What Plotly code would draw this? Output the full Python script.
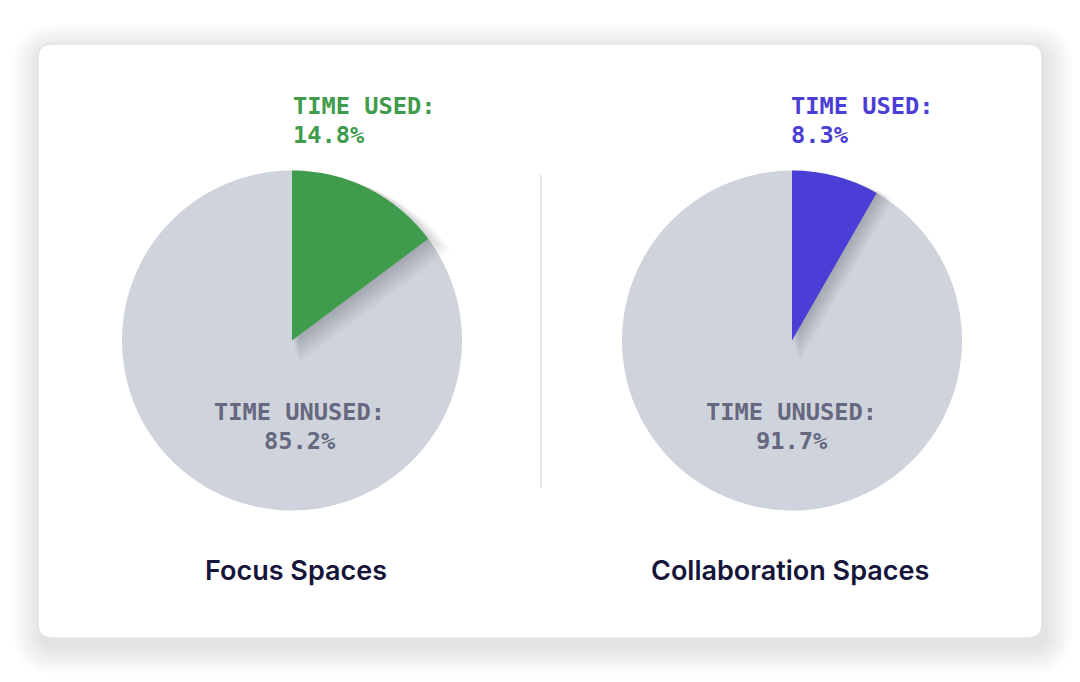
import plotly.graph_objects as go

# the page body adds an 8px margin, so the figure is drawn 8px in
OFF = 8
W, H = 1080 - 2 * OFF, 682 - 2 * OFF

# data
spaces = ["Focus Spaces", "Collaboration Spaces"]
used_pct = [14.8, 8.3]
unused_pct = [85.2, 91.7]
used_label = "TIME USED:"
unused_label = "TIME UNUSED:"

used_colors = ["#3f9c4c", "#4a3ed6"]
pie_gray = "#cfd4dc"
text_gray = "#666880"
navy = "#15143a"
mono = "DejaVu Sans Mono"

# layout positions (screen pixels, from top-left)
centers = [(292, 340.5), (792, 340.5)]
radius = 170
used_text_x = [291, 789]
unused_text_x = [299.5, 791.5]
title_x = [296, 789.5]


def px(x, y):
    return (x - OFF) / W, 1 - (y - OFF) / H


def rrect(x0, y0, x1, y1, r):
    pts = [
        ("M", [(x0 + r, y0)]), ("L", [(x1 - r, y0)]), ("Q", [(x1, y0), (x1, y0 + r)]),
        ("L", [(x1, y1 - r)]), ("Q", [(x1, y1), (x1 - r, y1)]),
        ("L", [(x0 + r, y1)]), ("Q", [(x0, y1), (x0, y1 - r)]),
        ("L", [(x0, y0 + r)]), ("Q", [(x0, y0), (x0 + r, y0)]),
    ]
    out = ""
    for cmd, coords in pts:
        out += cmd + " " + " ".join("%.5f,%.5f" % px(a, b) for a, b in coords) + " "
    return out + "Z"


def domain(cx, cy, r, dx=0, dy=0):
    x0, y0 = px(cx - r + dx, cy + r + dy)
    x1, y1 = px(cx + r + dx, cy - r + dy)
    return dict(x=[x0, x1], y=[y0, y1])


fig = go.Figure()

for i in range(len(spaces)):
    cx, cy = centers[i]
    vals = [used_pct[i], unused_pct[i]]
    # base disc
    fig.add_trace(go.Pie(
        values=vals, marker=dict(colors=[pie_gray, pie_gray], line=dict(width=0)),
        domain=domain(cx, cy, radius), sort=False, direction="clockwise",
        textinfo="none", hoverinfo="skip", showlegend=False,
    ))
    # soft shadow under the used wedge
    for k in range(1, 23):
        fig.add_trace(go.Pie(
            values=vals,
            marker=dict(colors=["rgba(50,55,70,0.011)", "rgba(0,0,0,0)"], line=dict(width=0)),
            domain=domain(cx, cy, radius + k * 0.9, dx=k * 0.35, dy=k * 1.05),
            sort=False, direction="clockwise",
            textinfo="none", hoverinfo="skip", showlegend=False,
        ))
    # used wedge
    fig.add_trace(go.Pie(
        values=vals,
        marker=dict(colors=[used_colors[i], "rgba(0,0,0,0)"], line=dict(width=0)),
        domain=domain(cx, cy, radius), sort=False, direction="clockwise",
        textinfo="none", hoverinfo="skip", showlegend=False,
    ))

shapes = []
# card shadow
for k in range(14):
    e = 2 + k * 2
    shapes.append(dict(
        type="path", xref="paper", yref="paper", layer="below",
        path=rrect(38 - e + 3, 44 - e + 8, 1042 + e + 3, 638 + e + 8, 14 + e),
        fillcolor="rgba(0,0,0,0.008)", line=dict(width=0),
    ))
# card
shapes.append(dict(
    type="path", xref="paper", yref="paper", layer="below",
    path=rrect(38, 44, 1042, 638, 14),
    fillcolor="white", line=dict(color="#e3e3e8", width=1.5),
))
# divider
lx0, ly0 = px(541, 175)
lx1, ly1 = px(541, 488)
shapes.append(dict(
    type="line", xref="paper", yref="paper", layer="below",
    x0=lx0, y0=ly0, x1=lx1, y1=ly1, line=dict(color="#dcdce0", width=1.5),
))

annotations = []
for i in range(len(spaces)):
    for text, x, y, anchor, color in [
        (used_label, used_text_x[i], 106, "left", used_colors[i]),
        ("%.1f%%" % used_pct[i], used_text_x[i], 134.5, "left", used_colors[i]),
        (unused_label, unused_text_x[i], 412, "center", text_gray),
        ("%.1f%%" % unused_pct[i], unused_text_x[i], 441, "center", text_gray),
    ]:
        ax, ay = px(x, y)
        annotations.append(dict(
            text=text, x=ax, y=ay, xref="paper", yref="paper",
            xanchor=anchor, yanchor="middle", showarrow=False,
            font=dict(family=mono, size=23.7, color=color, weight="bold"),
        ))
    ax, ay = px(title_x[i], 570)
    annotations.append(dict(
        text=spaces[i], x=ax, y=ay, xref="paper", yref="paper",
        xanchor="center", yanchor="middle", showarrow=False,
        font=dict(family="Inter", size=27, color=navy, weight=600),
    ))

fig.update_layout(
    width=W, height=H, margin=dict(l=0, r=0, t=0, b=0),
    paper_bgcolor="white", plot_bgcolor="white",
    shapes=shapes, annotations=annotations,
)

fig.write_html("out.html")
